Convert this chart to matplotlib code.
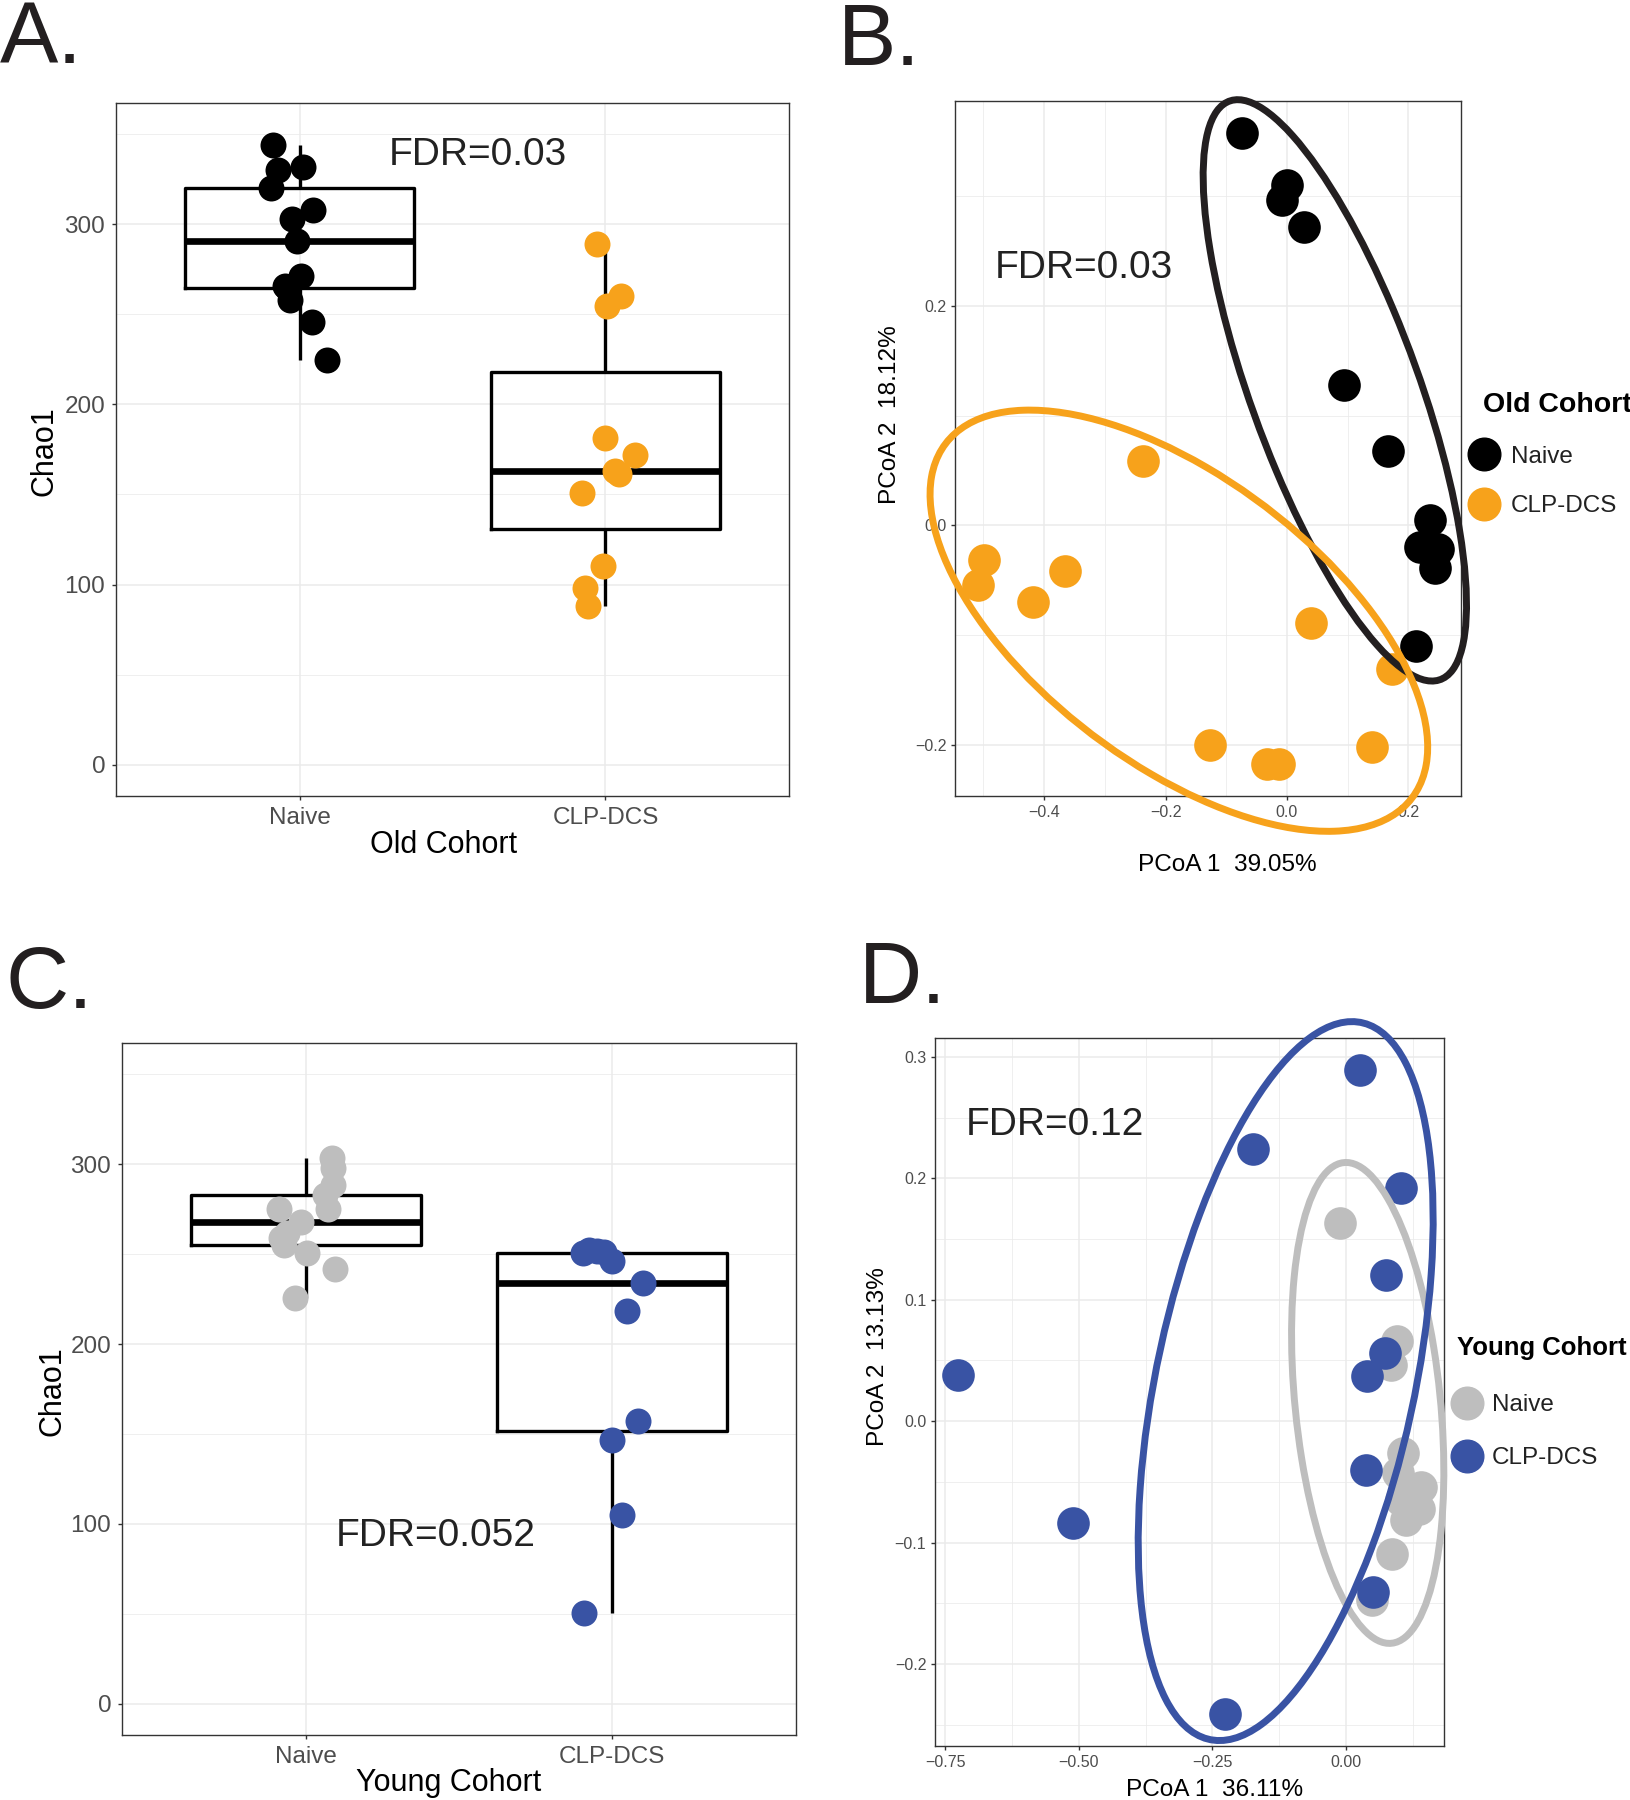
import numpy as np
import matplotlib
matplotlib.use("Agg")
import matplotlib.pyplot as plt
from matplotlib.lines import Line2D
from matplotlib.patches import Ellipse

plt.rcParams['font.family'] = ['Liberation Sans', 'DejaVu Sans']

W, H = 1630, 1800

# ---------------- data ----------------
groups = ['Naive', 'CLP-DCS']

# A. Old cohort, Chao1 (values + horizontal jitter)
old_naive_chao1 = [343.9, 330.2, 331.8, 320.4, 307.8, 302.8, 290.7, 271.3, 265.7, 264.8, 258.3, 245.7, 224.6]
old_naive_jit = [-0.086, -0.071, 0.011, -0.093, 0.043, -0.025, -0.008, 0.005, -0.046, -0.040, -0.030, 0.040, 0.089]
old_clp_chao1 = [288.9, 254.7, 260.3, 181.3, 171.7, 163.2, 161.5, 150.7, 110.5, 98.0, 87.8]
old_clp_jit = [-0.028, 0.005, 0.051, -0.003, 0.096, 0.030, 0.043, -0.078, -0.007, -0.066, -0.058]

# B. Old cohort PCoA
old_naive_pc1 = [-0.074, 0.000, -0.008, 0.028, 0.094, 0.167, 0.236, 0.220, 0.249, 0.244, 0.213]
old_naive_pc2 = [0.358, 0.310, 0.297, 0.272, 0.128, 0.068, 0.005, -0.020, -0.022, -0.039, -0.110]
old_clp_pc1 = [-0.237, -0.499, -0.509, -0.366, -0.419, 0.039, 0.174, -0.127, -0.033, -0.013, 0.141]
old_clp_pc2 = [0.059, -0.032, -0.054, -0.042, -0.070, -0.089, -0.131, -0.200, -0.218, -0.218, -0.202]

# C. Young cohort, Chao1
young_naive_chao1 = [303.5, 298.0, 288.7, 283.2, 275.4, 275.4, 268.0, 262.0, 259.1, 255.1, 250.8, 241.6, 225.9]
young_naive_jit = [0.086, 0.090, 0.088, 0.064, 0.072, -0.086, -0.015, -0.060, -0.080, -0.070, 0.003, 0.094, -0.036]
young_clp_chao1 = [250.8, 252.3, 251.8, 251.0, 246.2, 233.8, 218.5, 157.1, 146.6, 104.7, 50.4]
young_clp_jit = [-0.096, -0.075, -0.050, -0.028, -0.001, 0.100, 0.048, 0.083, 0.000, 0.033, -0.092]

# D. Young cohort PCoA
young_naive_pc1 = [-0.011, 0.096, 0.084, 0.106, 0.097, 0.140, 0.137, 0.112, 0.103, 0.086, 0.049]
young_naive_pc2 = [0.163, 0.066, 0.046, -0.026, -0.043, -0.054, -0.072, -0.081, -0.065, -0.109, -0.147]
young_clp_pc1 = [0.027, -0.175, 0.102, 0.075, 0.072, 0.040, -0.726, 0.038, -0.511, 0.051, -0.227]
young_clp_pc2 = [0.289, 0.224, 0.192, 0.120, 0.056, 0.037, 0.038, -0.040, -0.084, -0.141, -0.241]

# group ellipses:
# centre (x, y), half extent in x and y, x position of the ellipse's top point
ell_old_naive = [0.079, 0.123, 0.217, 0.265, -0.081]
ell_old_clp = [-0.178, -0.087, 0.410, 0.192, -0.424]
ell_young_naive = [0.0405, 0.015, 0.1425, 0.198, 0.0]
ell_young_clp = [-0.113, 0.033, 0.276, 0.296, 0.011]

BLACK = '#000000'
ORANGE = '#F7A21B'
GRAY = '#BEBEBE'
BLUE = '#3953A4'
TXT = '#222222'
GRID = '#EBEBEB'


def ellipse_patch(params, color):
    cx, cy, hx, hy, top_x = params
    sxy = (top_x - cx) * hy
    S = np.array([[hx ** 2, sxy], [sxy, hy ** 2]])
    vals, vecs = np.linalg.eigh(S)
    ang = np.degrees(np.arctan2(vecs[1, 1], vecs[0, 1]))
    return Ellipse((cx, cy), 2 * np.sqrt(vals[1]), 2 * np.sqrt(vals[0]), angle=ang,
                   fill=False, edgecolor=color, lw=5.0, clip_on=False, zorder=4)


fig = plt.figure(figsize=(W / 100, H / 100), dpi=100)


def add_ax(l, t, r, b):
    return fig.add_axes([l / W, 1 - b / H, (r - l) / W, (b - t) / H])


def ftext(x, y, s, **kw):
    kw.setdefault('color', TXT)
    fig.text(x / W, 1 - y / H, s, **kw)


def style(ax, tick_size, pad):
    for sp in ax.spines.values():
        sp.set_color('#333333')
        sp.set_linewidth(1.0)
    ax.tick_params(which='major', length=2.75, width=1.0, color='#333333',
                   labelsize=tick_size, labelcolor='#4D4D4D', pad=pad)
    ax.tick_params(which='minor', length=0)
    ax.set_axisbelow(True)
    ax.grid(which='major', color=GRID, lw=1.1)
    ax.grid(which='minor', color=GRID, lw=0.55)


def boxpanel(ax, naive, njit, clp, cjit, ncol, ccol, fdr, fdr_xy):
    ax.boxplot([naive, clp], positions=[1, 2], widths=0.75, whis=1.5,
               showfliers=False, showcaps=False,
               boxprops=dict(color='black', lw=2.4),
               whiskerprops=dict(color='black', lw=2.4, solid_capstyle='butt'),
               medianprops=dict(color='black', lw=4.8, solid_capstyle='butt'))
    ax.scatter(1 + np.array(njit), naive, s=350, color=ncol, lw=0, zorder=3)
    ax.scatter(2 + np.array(cjit), clp, s=350, color=ccol, lw=0, zorder=3)
    ax.set_xlim(0.4, 2.6)
    ax.set_ylim(-17.5, 367.5)
    ax.set_xticks([1, 2])
    ax.set_xticklabels(groups)
    ax.set_yticks([0, 100, 200, 300])
    ax.set_yticks([50, 150, 250, 350], minor=True)
    ax.set_xticks([], minor=True)
    style(ax, 17.5, 5.0)
    ax.text(fdr_xy[0], fdr_xy[1], fdr, fontsize=28, color=TXT, ha='center', va='baseline')


def pcoapanel(ax, n1, n2, c1, c2, ncol, ccol, ell_n, ell_c, fdr, fdr_xy,
              xmaj, xmin, ymaj, ymin, xfmt):
    ax.scatter(n1, n2, s=552, color=ncol, lw=0, zorder=3)
    ax.scatter(c1, c2, s=552, color=ccol, lw=0, zorder=3)
    ax.add_patch(ellipse_patch(ell_n, '#231F20' if ncol == BLACK else ncol))
    ax.add_patch(ellipse_patch(ell_c, ccol))
    allx = np.concatenate([n1, c1])
    ally = np.concatenate([n2, c2])
    padx = 0.05 * (allx.max() - allx.min())
    pady = 0.05 * (ally.max() - ally.min())
    ax.set_xlim(allx.min() - padx, allx.max() + padx)
    ax.set_ylim(ally.min() - pady, ally.max() + pady)
    ax.set_xticks(xmaj)
    ax.set_xticklabels([xfmt.format(v).replace('-', '\u2212') for v in xmaj])
    ax.set_xticks(xmin, minor=True)
    ax.set_yticks(ymaj)
    ax.set_yticklabels(['{:.1f}'.format(v).replace('-', '\u2212') for v in ymaj])
    ax.set_yticks(ymin, minor=True)
    style(ax, 11.5, 3.5)
    ax.text(fdr_xy[0], fdr_xy[1], fdr, fontsize=28, color=TXT, ha='center', va='baseline')


def legend(title, tsize, labels, colors, title_x, title_y, key_x, key_ys, lab_x):
    ftext(title_x, title_y, title, fontsize=tsize, fontweight='bold', va='baseline', color='black')
    for lab, col, ky in zip(labels, colors, key_ys):
        fig.add_artist(Line2D([key_x / W], [1 - ky / H], marker='o', ms=23.5, lw=0,
                              color=col, transform=fig.transFigure))
        ftext(lab_x, ky + 8.7, lab, fontsize=17.5, va='baseline')


# ---------------- A ----------------
axA = add_ax(116, 103, 789, 796)
boxpanel(axA, old_naive_chao1, old_naive_jit, old_clp_chao1, old_clp_jit,
         BLACK, ORANGE, 'FDR=0.03', (1.584, 332.9))
ftext(45, 451, 'Chao1', fontsize=22, rotation=90, ha='center', va='center', color='black')
ftext(444, 853, 'Old Cohort', fontsize=22, ha='center', va='baseline', color='black')

# ---------------- B ----------------
axB = add_ax(955, 101, 1461, 796)
pcoapanel(axB, old_naive_pc1, old_naive_pc2, old_clp_pc1, old_clp_pc2, BLACK, ORANGE,
          ell_old_naive, ell_old_clp, 'FDR=0.03', (-0.335, 0.225),
          [-0.4, -0.2, 0.0, 0.2], [-0.5, -0.3, -0.1, 0.1],
          [-0.2, 0.0, 0.2], [-0.1, 0.1, 0.3], '{:.1f}')
ftext(890, 415, 'PCoA 2  18.12%', fontsize=17.6, rotation=90, ha='center', va='center', color='black')
ftext(1227, 871, 'PCoA 1  39.05%', fontsize=17.6, ha='center', va='baseline', color='black')
legend('Old Cohort', 20.5, groups, [BLACK, ORANGE], 1483, 412, 1484, [454, 503.5], 1511)

# ---------------- C ----------------
axC = add_ax(122, 1043, 796, 1735)
boxpanel(axC, young_naive_chao1, young_naive_jit, young_clp_chao1, young_clp_jit,
         GRAY, BLUE, 'FDR=0.052', (1.425, 87.6))
ftext(52, 1391, 'Chao1', fontsize=22, rotation=90, ha='center', va='center', color='black')
ftext(449, 1791, 'Young Cohort', fontsize=22, ha='center', va='baseline', color='black')

# ---------------- D ----------------
axD = add_ax(935, 1038, 1444, 1746)
pcoapanel(axD, young_naive_pc1, young_naive_pc2, young_clp_pc1, young_clp_pc2, GRAY, BLUE,
          ell_young_naive, ell_young_clp, 'FDR=0.12', (-0.544, 0.2355),
          [-0.75, -0.5, -0.25, 0.0], [-0.625, -0.375, -0.125, 0.125],
          [-0.2, -0.1, 0.0, 0.1, 0.2, 0.3], [-0.25, -0.15, -0.05, 0.05, 0.15, 0.25], '{:.2f}')
ftext(878, 1357, 'PCoA 2  13.13%', fontsize=17.6, rotation=90, ha='center', va='center', color='black')
ftext(1215, 1796, 'PCoA 1  36.11%', fontsize=17.6, ha='center', va='baseline', color='black')
legend('Young Cohort', 18.5, groups, [GRAY, BLUE], 1457, 1355, 1467, [1402.6, 1455.6], 1492)

# panel letters
for lab, x, y in [('A.', 0, 63), ('B.', 838, 65), ('C.', 6, 1008), ('D.', 859, 1003)]:
    ftext(x, y, lab, fontsize=63, va='baseline', color='#231F20')

fig.savefig('out.png', dpi=100)
